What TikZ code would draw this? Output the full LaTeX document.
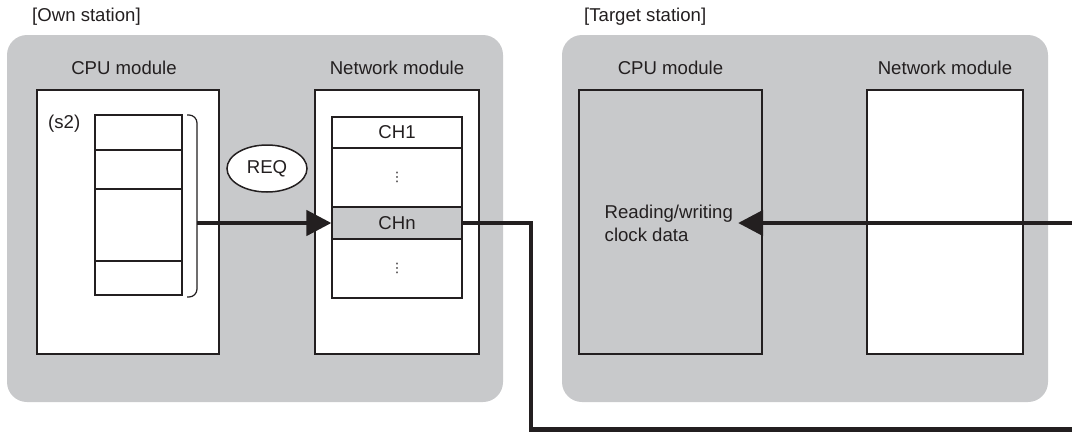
\documentclass[tikz,border=0pt]{standalone}
\usepackage{fontspec}
\setmainfont{Liberation Sans}
\newfontfamily\dotsfont{DejaVu Sans}
\usetikzlibrary{arrows.meta, positioning, shapes.geometric}
\definecolor{stgray}{RGB}{200,201,203}
\definecolor{ink}{RGB}{35,31,32}

\begin{document}
\begin{tikzpicture}[x=1pt, y=-1pt,
  every node/.style={font=\fontsize{18.6}{23}\selectfont, text=ink, inner sep=0pt},
  station/.style={rectangle, rounded corners=20pt, fill=stgray, minimum width=#1, minimum height=367pt},
  module/.style={rectangle, draw=ink, line width=1.2pt, minimum width=#1, minimum height=264pt},
  cell/.style={rectangle, draw=ink, line width=1.2pt, fill=white, minimum width=#1},
  modlabel/.style={above=15pt of #1},
  vdot/.style={font=\dotsfont\fontsize{13}{13}\selectfont},
  flow/.style={draw=ink, line width=4.5pt},
  flowtip/.style={flow, -{Triangle[length=25pt, width=25pt]}},
]
\useasboundingbox (0,0) rectangle (1072,432);

% stations
\node[station=496pt] (own) at (255,218.5) {};
\node[station=486pt] (tgt) at (805,218.5) {};
\node[anchor=west] (ownlbl) at (32,17) {[Own station]};
\node[anchor=west] (tgtlbl) at (584,17) {[Target station]};

% own station
\node[module=182pt, fill=white] (cpuA) at (128,222) {};
\node[module=164pt, fill=white] (netA) at (397,222) {};
\node[modlabel=cpuA, xshift=-4pt] {CPU module};
\node[modlabel=netA] {Network module};

\node[anchor=west] (s2) at (48,124) {(s2)};
\node[cell=87pt, minimum height=35pt] (sa) at (138.5,132.5) {};
\node[cell=87pt, minimum height=39pt] (sb) at (138.5,169.5) {};
\node[cell=87pt, minimum height=72pt] (sc) at (138.5,225) {};
\node[cell=87pt, minimum height=34pt] (sd) at (138.5,278) {};
\draw[ink, line width=1.2pt, rounded corners=8pt] (187,115) -| (197,205) |- (187,297);
\coordinate (brk) at (197,223);

\node[ellipse, draw=ink, line width=1.5pt, fill=white, minimum width=80pt, minimum height=47pt] (req) at (267,168.5) {REQ};

\node[cell=130pt, minimum height=31pt] (ch1) at (397,132.5) {CH1};
\node[cell=130pt, minimum height=59pt, vdot] (dt1) at (397,177.5) {⋮};
\node[cell=130pt, minimum height=32pt, fill=stgray] (chn) at (397,223) {CHn};
\node[cell=130pt, minimum height=59pt, vdot] (dt2) at (397,268.5) {⋮};

% target station
\node[module=183pt] (cpuB) at (670.5,222) {};
\node[module=156pt, fill=white] (netB) at (945,222) {};
\node[modlabel=cpuB] {CPU module};
\node[modlabel=netB] {Network module};
\node[anchor=west, align=left, inner xsep=5pt] (rw) at (599.5,223) {Reading/writing\\clock data};

% connectors
\coordinate (turn) at (531,429.5);
\coordinate (rout) at (1072,429.5);
\coordinate (rin) at (1072,223);
\draw[flowtip] (brk) -- (brk -| chn.west);
\draw[flow] (chn.east) -| (turn) -- (rout);
\draw[flowtip] (rin) -- (rin -| rw.east);
\end{tikzpicture}
\end{document}
